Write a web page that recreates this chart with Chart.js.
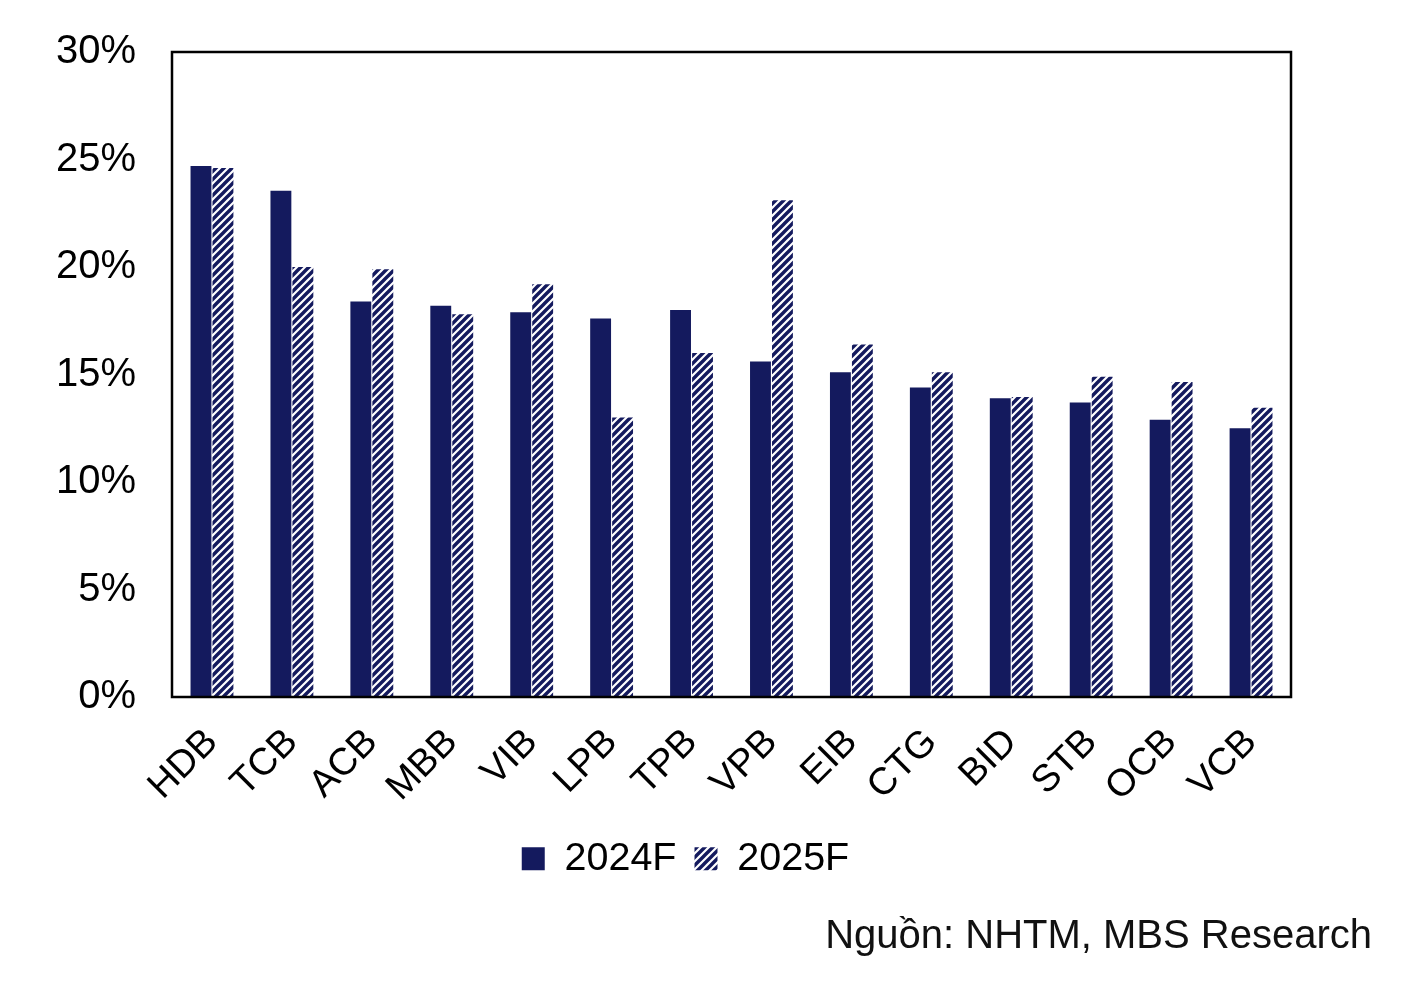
<!DOCTYPE html>
<html>
<head>
<meta charset="utf-8">
<script src="https://cdn.jsdelivr.net/npm/chart.js@4"></script>
<style>
  html, body { margin: 0; padding: 0; background: #ffffff; }
  #wrap { position: relative; width: 1417px; height: 1003px; }
  #source { position: absolute; right: 45px; top: 914px; font-family: "Liberation Sans", Arial, sans-serif; font-size: 40px; line-height: 40px; color: #111; white-space: nowrap; }
</style>
</head>
<body>
<div id="wrap">
  <canvas id="c" width="1417" height="1003"></canvas>
  <div id="source">Nguồn: NHTM, MBS Research</div>
</div>
<script>
const categories = ["HDB", "TCB", "ACB", "MBB", "VIB", "LPB", "TPB", "VPB", "EIB", "CTG", "BID", "STB", "OCB", "VCB"];
const series2024 = [24.7, 23.55, 18.4, 18.2, 17.9, 17.6, 18.0, 15.6, 15.1, 14.4, 13.9, 13.7, 12.9, 12.5];
const series2025 = [24.6, 20.0, 19.9, 17.8, 19.2, 13.0, 16.0, 23.1, 16.4, 15.1, 13.95, 14.9, 14.65, 13.45];
const seriesNames = ["2024F", "2025F"];
const yTicks = [0, 5, 10, 15, 20, 25, 30];

const NAVY = '#141A5E';

function makeHatch() {
  const s = 8;
  const c = document.createElement('canvas');
  c.width = s; c.height = s;
  const g = c.getContext('2d');
  g.fillStyle = '#ffffff';
  g.fillRect(0, 0, s, s);
  g.strokeStyle = NAVY;
  g.lineWidth = 3.4;
  g.lineCap = 'square';
  g.beginPath();
  g.moveTo(-2, s + 2); g.lineTo(s + 2, -2);
  g.moveTo(-2, 2); g.lineTo(2, -2);
  g.moveTo(s - 2, s + 2); g.lineTo(s + 2, s - 2);
  g.stroke();
  return g.createPattern(c, 'repeat');
}
const hatch = makeHatch();

const frame = {
  id: 'frame',
  afterLayout(chart) {
    if (chart.legend) { chart.legend.left += 40; chart.legend.right += 40; }
  },
  afterDatasetsDraw(chart) {
    const a = chart.chartArea, ctx = chart.ctx;
    ctx.save();
    ctx.strokeStyle = '#000';
    ctx.lineWidth = 2.5;
    ctx.strokeRect(a.left, a.top, a.right - a.left, a.bottom - a.top);
    ctx.restore();
  }
};

Chart.defaults.font.family = '"Liberation Sans", Arial, sans-serif';
Chart.defaults.color = '#000';

new Chart(document.getElementById('c'), {
  type: 'bar',
  data: {
    labels: categories,
    datasets: [
      { label: seriesNames[0], data: series2024, backgroundColor: NAVY, borderWidth: 0 },
      { label: seriesNames[1], data: series2025, backgroundColor: hatch, borderWidth: 0 }
    ]
  },
  options: {
    responsive: false,
    animation: false,
    devicePixelRatio: 1,
    categoryPercentage: 0.55,
    barPercentage: 0.95,
    layout: { padding: { top: 38, right: 126, bottom: 114.5, left: 0 } },
    plugins: {
      legend: {
        position: 'bottom',
        labels: { boxWidth: 23, boxHeight: 23, padding: 18, font: { size: 39.5 }, color: '#000' }
      },
      tooltip: { enabled: false }
    },
    scales: {
      x: {
        grid: { display: false },
        border: { display: false },
        ticks: { font: { size: 38 }, maxRotation: 45, minRotation: 45, padding: 15, color: '#000' },
        afterFit(scale) { scale.height = 124; }
      },
      y: {
        min: 0, max: 30,
        grid: { display: false },
        border: { display: false },
        afterBuildTicks(scale) { scale.ticks = yTicks.map(v => ({ value: v })); },
        ticks: { font: { size: 40 }, padding: 28, color: '#000', callback: v => v + '%' },
        afterFit(scale) { scale.width = 172; }
      }
    }
  },
  plugins: [frame]
});
</script>
</body>
</html>
